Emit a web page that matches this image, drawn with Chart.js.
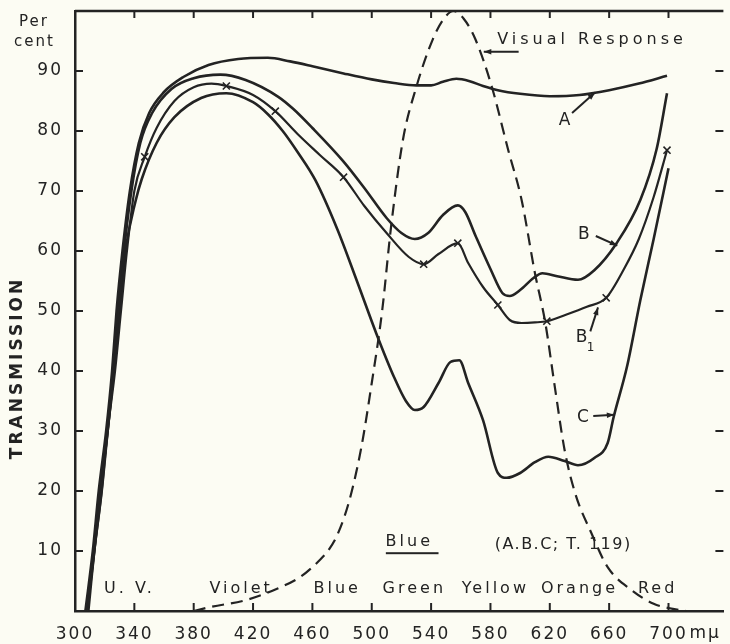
<!DOCTYPE html>
<html>
<head>
<meta charset="utf-8">
<script src="https://cdn.jsdelivr.net/npm/chart.js@4.4.0/dist/chart.umd.min.js"></script>
<style>
html,body{margin:0;padding:0;background:#fcfcf3;}
#wrap{position:relative;width:730px;height:644px;}
</style>
</head>
<body>
<div id="wrap"><canvas id="c"></canvas></div>
<script>
// transmission curves, [wavelength mμ, per cent]
const curveA = [[307,0],[312,10],[316,20],[321,30],[325,40],[328,50],[332,60],[337,70],[343,78],[350,83],[360,86.5],[373,89],[390,91],[410,92],[430,92.2],[445,91.6],[460,90.8],[481,89.6],[500,88.6],[515,88],[530,87.6],[540,87.6],[548,88.2],[557,88.7],[566,88.3],[575,87.5],[585,86.8],[600,86.2],[620,85.8],[640,86],[660,86.8],[680,87.9],[699,89.2]];
const curveB = [[308,0],[313,10],[317,20],[322,30],[326,40],[329,50],[333,60],[338,70],[344,78],[352,83],[365,87],[380,88.8],[398,89.4],[415,88.5],[437,85.7],[447,83.7],[460,80.5],[481,74.9],[495,70.5],[510,65.5],[520,63],[529,62],[538,63],[548,66],[558,67.6],[563,66.5],[570,62.5],[580,57],[588,53],[593,52.5],[600,53.5],[609,55.5],[615,56.3],[625,55.8],[639,55.2],[650,56.8],[665,61.3],[681,68.5],[692,77],[699,86.3]];
const curveB1 = [[308,0],[313,10],[318,20],[322,30],[327,40],[331,50],[335,60],[340,70],[347,75.7],[355,80.5],[367,85],[380,87.3],[392,87.9],[402,87.5],[420,86],[435,83.3],[450,79.5],[465,76],[481,72.3],[495,67.5],[510,63],[525,59],[535,57.8],[545,59.5],[558,61.3],[565,58],[575,54],[585,51],[593,48.5],[601,48],[610,48.1],[618,48.3],[630,49.3],[645,50.7],[658,52.2],[670,57],[680,62],[690,69],[699,76.8]];
const b1Marks = [347,402,435,481,535,558,585,618,658,699];
const curveC = [[309,0],[313,10],[318,20],[322,30],[326,40],[330,50],[334,60],[341,68.5],[345,72],[355,78],[367,82.3],[385,85.5],[402,86.3],[420,84.8],[430,82.8],[440,80],[450,76.5],[462,71.8],[477,63.5],[490,55],[503,46.3],[515,39],[523,35],[529,33.5],[535,34],[545,38],[553,41.5],[559,41.8],[565,38],[575,31.8],[585,23],[591,22.2],[600,23],[610,24.8],[619,25.7],[630,25],[639,24.3],[650,25.5],[659,28],[663,32.3],[672,40.7],[681,51.8],[690,62],[700,73.8]];
const visual = [[380,0],[392,0.7],[415,1.8],[437,3.8],[452,5.7],[465,8.5],[471,10.2],[477,12.8],[485,18.5],[493,27.3],[500,38],[507,50],[513,64],[521,78.5],[530,87.3],[541,95.2],[548,98.5],[555,100],[562,98.7],[570,95.2],[581,87.3],[592,76.8],[601,68.5],[610,56.3],[617,48],[623,38],[630,26.8],[637,19.7],[648,13],[659,7.3],[675,3.5],[690,1.2],[700,0.5],[712,0]];
const nmTicks = [300,340,380,420,460,500,540,580,620,660,700];
const pctTicks = [0,10,20,30,40,50,60,70,80,90,100];
const bands = ['U. V.','Violet','Blue','Green','Yellow','Orange','Red'];
const bandAt = [336.7,412,476.7,528.7,583.3,640,692.7];

const INK = '#232323';
const FONT = '"DejaVu Sans", sans-serif';
const pts = arr => arr.map(p => ({x:p[0], y:p[1]}));

function line(data, extra){
  return Object.assign({data:pts(data), borderColor:INK, borderWidth:2.6, pointRadius:0, fill:false,
    cubicInterpolationMode:'monotone', clip:false}, extra||{});
}

// frame: top border and inward ticks on all four sides
const frame = {
  id:'frame',
  beforeDraw(chart){ chart.ctx.letterSpacing = '2px'; },
  afterDatasetsDraw(chart){
    const {ctx, chartArea:a, scales:{x, y}} = chart;
    ctx.save();
    ctx.strokeStyle = INK; ctx.lineWidth = 2.5;
    ctx.beginPath(); ctx.moveTo(a.left, a.top); ctx.lineTo(a.right, a.top); ctx.stroke();
    ctx.lineWidth = 2;
    x.ticks.forEach(t => {
      if (t.value <= 300) return;
      const px = x.getPixelForValue(t.value);
      ctx.beginPath(); ctx.moveTo(px, a.bottom); ctx.lineTo(px, a.bottom-8); ctx.stroke();
      ctx.beginPath(); ctx.moveTo(px, a.top); ctx.lineTo(px, a.top+7); ctx.stroke();
    });
    y.ticks.forEach(t => {
      if (t.value <= 0 || t.value >= 100) return;
      const py = y.getPixelForValue(t.value);
      ctx.beginPath(); ctx.moveTo(a.left, py); ctx.lineTo(a.left+8, py); ctx.stroke();
      ctx.beginPath(); ctx.moveTo(a.right, py); ctx.lineTo(a.right-8, py); ctx.stroke();
    });
    ctx.restore();
  }
};

function arrow(ctx, x0, y0, x1, y1){
  const ang = Math.atan2(y1-y0, x1-x0), h = 8;
  ctx.beginPath(); ctx.moveTo(x0, y0); ctx.lineTo(x1, y1); ctx.stroke();
  ctx.beginPath();
  ctx.moveTo(x1, y1);
  ctx.lineTo(x1 - h*Math.cos(ang-0.35), y1 - h*Math.sin(ang-0.35));
  ctx.lineTo(x1 - h*Math.cos(ang+0.35), y1 - h*Math.sin(ang+0.35));
  ctx.closePath(); ctx.fill();
}

// curve labels, arrows and the colour band names
const notes = {
  id:'notes',
  afterDraw(chart){
    const {ctx, scales:{x, y}} = chart;
    const X = v => x.getPixelForValue(v), Y = v => y.getPixelForValue(v);
    ctx.save();
    ctx.fillStyle = INK; ctx.strokeStyle = INK; ctx.lineWidth = 2;
    ctx.textBaseline = 'middle';
    ctx.letterSpacing = '3px';
    ctx.font = '16px ' + FONT;
    ctx.textAlign = 'center';
    bands.forEach((b, i) => ctx.fillText(b, X(bandAt[i]), Y(3.7)));
    ctx.fillText('Blue', X(525.3), Y(11.5));
    ctx.fillRect(X(509.5), Y(9.8), X(545)-X(509.5), 2);
    ctx.letterSpacing = '1.5px';
    ctx.fillText('(A.B.C; T. 119)', X(629), Y(11));
    ctx.letterSpacing = '4px';
    ctx.textAlign = 'left';
    ctx.fillText('Visual Response', X(584.5), Y(95.2));
    ctx.textAlign = 'center';
    ctx.letterSpacing = '0px';
    ctx.font = '17px ' + FONT;
    ctx.fillText('A', X(630), Y(81.8));
    ctx.fillText('B', X(643), Y(62.7));
    ctx.fillText('B', X(641.5), Y(45.5));
    ctx.font = '12px ' + FONT;
    ctx.fillText('1', X(647.5), Y(43.8));
    ctx.font = '17px ' + FONT;
    ctx.fillText('C', X(642.3), Y(32.3));
    [[599,93.2,575.5,93.2],[635,83,650.5,86.4],[651,62.5,665.5,60.9],[647.3,46.6,652.5,50.6],[649.3,32.5,663.5,32.7]]
      .forEach(a => arrow(ctx, X(a[0]), Y(a[1]), X(a[2]), Y(a[3])));
    // axis captions
    ctx.textAlign = 'left';
    ctx.letterSpacing = '2px';
    ctx.font = '15px ' + FONT;
    ctx.fillText('Per', 19, 22);
    ctx.fillText('cent', 14, 42);
    ctx.font = '17px ' + FONT;
    ctx.fillText('mμ', X(700)+21, 634);
    ctx.translate(18, 368);
    ctx.rotate(-Math.PI/2);
    ctx.textAlign = 'center';
    ctx.font = 'bold 17px ' + FONT;
    ctx.letterSpacing = '3px';
    ctx.fillText('TRANSMISSION', 0, 0);
    ctx.restore();
  }
};

new Chart(document.getElementById('c'), {
  type:'line',
  data:{datasets:[
    line(curveA),
    line(curveB),
    line(curveB1, {borderWidth:2.2, pointStyle:'crossRot', pointBorderColor:INK, pointBorderWidth:1.6,
      pointRadius: c => b1Marks.includes(c.raw && c.raw.x) ? 5 : 0}),
    line(curveC),
    line(visual, {borderWidth:2.2, borderDash:[12,7]})
  ]},
  options:{
    responsive:true, maintainAspectRatio:false, animation:false, devicePixelRatio:1,
    layout:{padding:{left:0, right:0, top:11, bottom:0}},
    plugins:{legend:{display:false}, tooltip:{enabled:false}},
    scales:{
      x:{type:'linear', min:300, max:737,
        grid:{display:false, drawTicks:false},
        border:{display:true, color:INK, width:2.5},
        afterBuildTicks: s => { s.ticks = nmTicks.map(v => ({value:v})); },
        ticks:{color:INK, font:{family:FONT, size:17}, padding:13, maxRotation:0, autoSkip:false},
        afterFit: s => { s.height = 33; s.paddingLeft = 0; s.paddingRight = 0; }},
      y:{min:0, max:100,
        grid:{display:false, drawTicks:false},
        border:{display:true, color:INK, width:2.5},
        afterBuildTicks: s => { s.ticks = pctTicks.map(v => ({value:v})); },
        ticks:{color:INK, font:{family:FONT, size:17}, padding:12,
          callback: v => (v === 0 || v === 100) ? '' : v},
        afterFit: s => { s.width = 75; s.paddingTop = 0; s.paddingBottom = 0; }}
    }
  },
  plugins:[frame, notes]
});
</script>
</body>
</html>
